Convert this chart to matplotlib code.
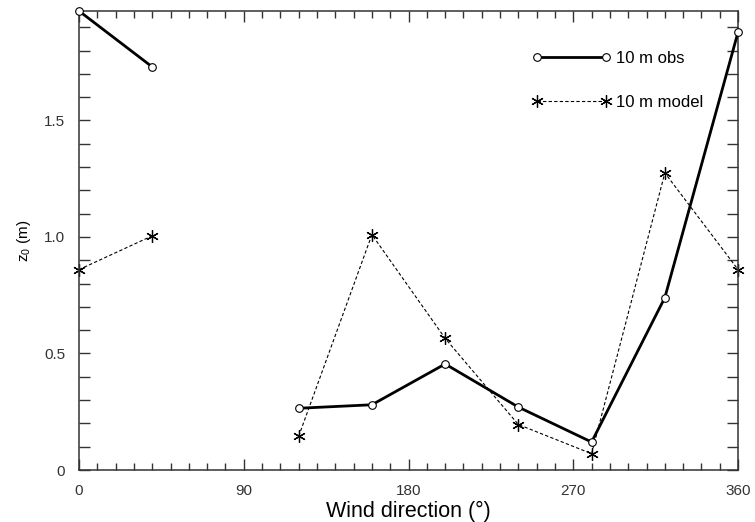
import numpy as np
import matplotlib
matplotlib.use('Agg')
import matplotlib.pyplot as plt
from matplotlib.ticker import MultipleLocator

plt.rcParams['font.family'] = ['Liberation Sans', 'DejaVu Sans']
plt.rcParams['mathtext.fontset'] = 'custom'
plt.rcParams['mathtext.rm'] = 'Liberation Sans'
plt.rcParams['mathtext.it'] = 'Liberation Sans'

# wind direction bins (deg), no data at 80
direction = [0, 40, 80, 120, 160, 200, 240, 280, 320, 360]
obs_10m = [1.97, 1.73, np.nan, 0.265, 0.28, 0.455, 0.27, 0.12, 0.74, 1.88]
model_10m = [0.86, 1.005, np.nan, 0.145, 1.01, 0.565, 0.195, 0.07, 1.275, 0.86]

x_ticks = [0, 90, 180, 270, 360]
y_ticks = [0, 0.5, 1.0, 1.5]
y_tick_labels = ['0', '0.5', '1.0', '1.5']

fig = plt.figure(figsize=(7.55, 5.22), dpi=100)
ax = fig.add_axes([0.1046, 0.0996, 0.873, 0.8794])

# obs: solid thick line with open circles
ax.plot(direction, obs_10m, color='black', linewidth=2.0, marker='o',
        markersize=5.5, markerfacecolor='white', markeredgecolor='black',
        markeredgewidth=0.8, clip_on=False, zorder=3, label='10 m obs')
# model: thin dashed line with asterisks
ax.plot(direction, model_10m, color='black', linewidth=0.8,
        linestyle=(0, (3, 2)), marker=(6, 2, 0), markersize=9,
        markeredgewidth=0.9, clip_on=False, zorder=2, label='10 m model')

ax.set_xlim(0, 360)
ax.set_ylim(0, 1.97)
ax.set_xticks(x_ticks)
ax.set_xticklabels([str(t) for t in x_ticks])
ax.xaxis.set_minor_locator(MultipleLocator(10))
ax.set_yticks(y_ticks)
ax.set_yticklabels(y_tick_labels)
ax.yaxis.set_minor_locator(MultipleLocator(0.1))

ax.tick_params(which='both', direction='in', top=True, right=True,
               labelsize=11, colors='#333333', pad=10)
ax.tick_params(which='major', length=8, width=1)
ax.tick_params(which='minor', length=5, width=1)
ax.tick_params(axis='y', which='minor', length=8)
for s in ax.spines.values():
    s.set_color('#333333')
    s.set_linewidth(1.1)

ax.set_xlabel('Wind direction (°)', fontsize=15.5, labelpad=2)
ax.set_ylabel('z$_0$ (m)', fontsize=11, labelpad=8)

leg = ax.legend(loc='upper left', bbox_to_anchor=(0.665, 0.945), frameon=False,
                numpoints=2, handlelength=4.7, handletextpad=0.3,
                labelspacing=1.7, fontsize=12)

fig.savefig('out.png', dpi=100)
